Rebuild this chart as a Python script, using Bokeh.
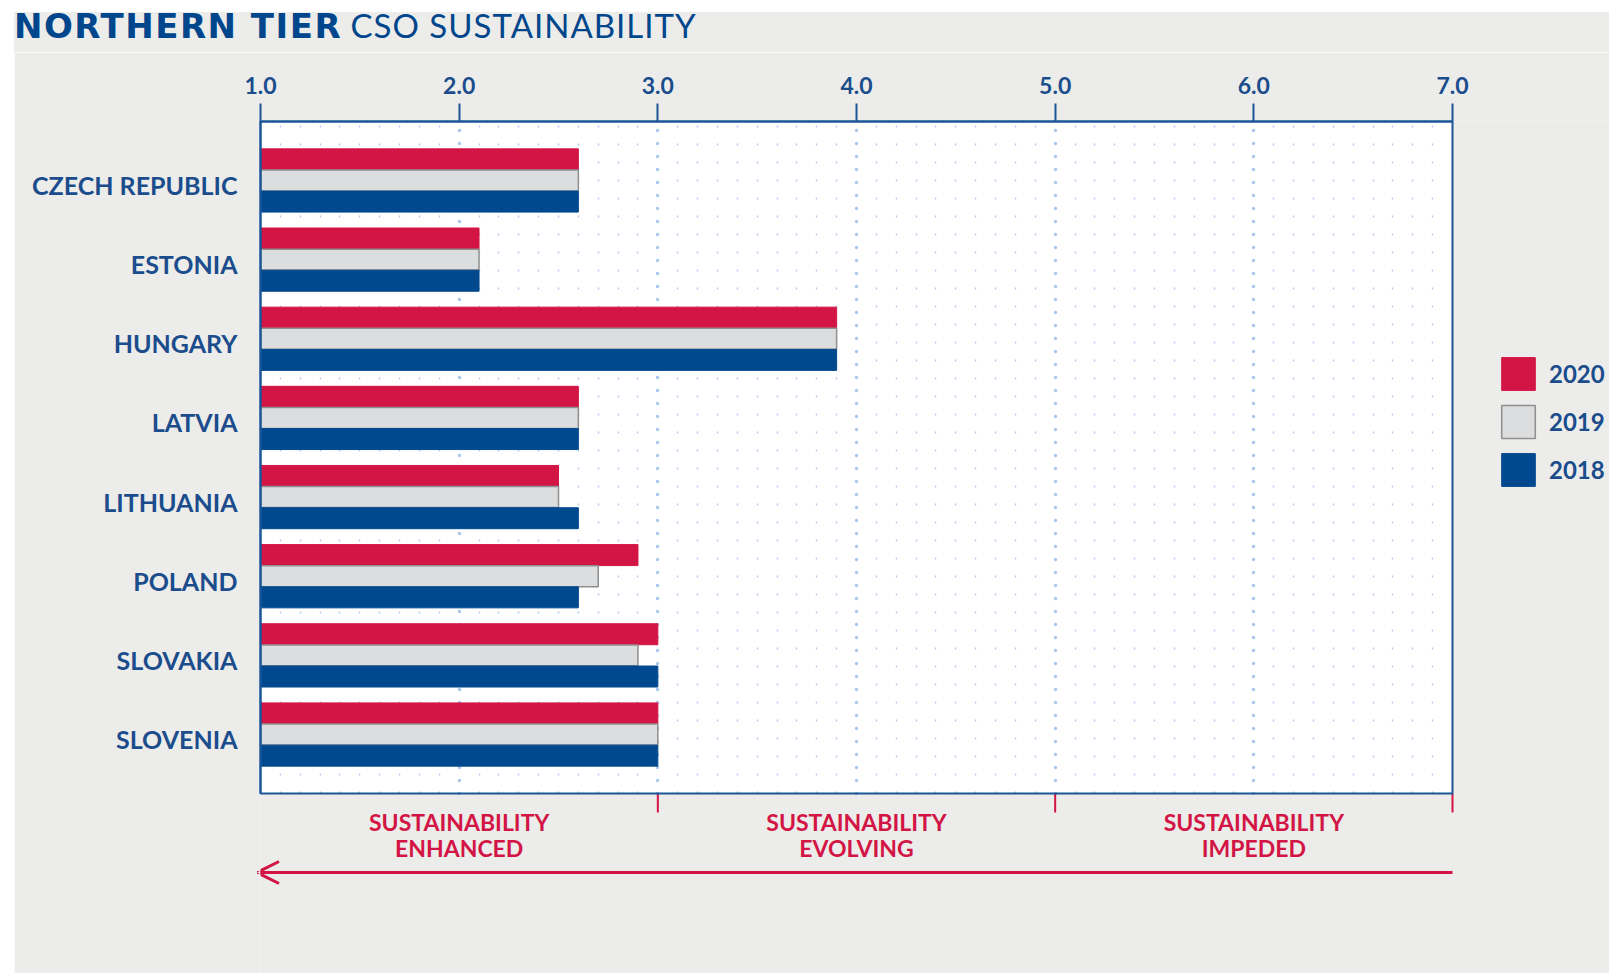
import numpy as np
from bokeh.plotting import figure
from bokeh.layouts import column
from bokeh.models import (FixedTicker, Range1d, Label, Legend, LegendItem,
                          Arrow, OpenHead, Div, Grid)
from bokeh.embed import file_html
from bokeh.resources import INLINE

# ---------------- data ----------------
countries = ["CZECH REPUBLIC", "ESTONIA", "HUNGARY", "LATVIA",
             "LITHUANIA", "POLAND", "SLOVAKIA", "SLOVENIA"]
years = ["2020", "2019", "2018"]
v2020 = [2.6, 2.1, 3.9, 2.6, 2.5, 2.9, 3.0, 3.0]
v2019 = [2.6, 2.1, 3.9, 2.6, 2.5, 2.7, 2.9, 3.0]
v2018 = [2.6, 2.1, 3.9, 2.6, 2.6, 2.6, 3.0, 3.0]
tick_values = [1, 2, 3, 4, 5, 6, 7]
tick_labels = ["1.0", "2.0", "3.0", "4.0", "5.0", "6.0", "7.0"]
zone_bounds = [1, 3, 5, 7]
zone_labels = ["SUSTAINABILITY\nENHANCED", "SUSTAINABILITY\nEVOLVING", "SUSTAINABILITY\nIMPEDED"]
title_bold = "NORTHERN TIER"
title_rest = "CSO SUSTAINABILITY"

# ---------------- style ----------------
FONT = "Lato"
BLUE_TXT = "#1B4C8C"
TITLE_BLUE = "#00468C"
RED = "#D31545"
GRAY = "#DCDDDF"
BLUE = "#00498F"
BG = "#ECECEA"
FRAME_BLUE = "#1A5597"
DOT_MAJOR = "#A9C8EA"
DOT_MINOR = "#B5CDEA"

# layout geometry (page pixels)
ORIGIN_X, ORIGIN_Y = 14, 12          # grey panel starts here
H_TITLE = 40
W, H = 1595, 921
FIG_X, FIG_Y = ORIGIN_X, ORIGIN_Y + H_TITLE
PLOT_L, PLOT_T = 260, 121            # white plot area corner on the page
PLOT_W, PLOT_H = 1192, 672
BORDER_LEFT = PLOT_L - FIG_X
BORDER_TOP = PLOT_T - FIG_Y

n = len(countries)
pos = np.arange(n)[::-1].astype(float)     # first country at top
pad = 0.745
x0, x1 = tick_values[0], tick_values[-1]
px_x = PLOT_W / (x1 - x0)
px_y = PLOT_H / (n - 1 + 2 * pad)
frame_w = W - BORDER_LEFT
frame_h = H - BORDER_TOP
y_top = n - 1 + pad
y_bot = y_top - frame_h / px_y
frame_bottom_page = FIG_Y + H

p = figure(width=W, height=H, output_backend="svg", toolbar_location=None,
           x_range=Range1d(x0, x0 + frame_w / px_x), y_range=Range1d(y_bot, y_top),
           x_axis_location="above",
           min_border_left=BORDER_LEFT, min_border_right=0, min_border_top=BORDER_TOP,
           min_border_bottom=0, margin=0)
p.background_fill_color = BG
p.border_fill_color = BG
p.outline_line_color = None

# white plot area
p.quad(left=x0, right=x1, bottom=-pad, top=y_top, fill_color="white", line_color=None, level="image")

# dotted grid restricted to the plot area
minor = [round(v, 1) for v in np.arange(x0 + 0.1, x1, 0.1) if abs(v - round(v)) > 1e-6]
major = tick_values[1:-1]
if "cross_bounds" in Grid.properties():
    g = p.xgrid[0]
    g.ticker = FixedTicker(ticks=major, minor_ticks=minor)
    g.cross_bounds = (-pad, y_top)
    g.bounds = (x0, x1)
    g.grid_line_color = DOT_MAJOR
    g.grid_line_width = 3.5
    g.grid_line_dash = "0 13"
    g.grid_line_cap = "round"
    g.minor_grid_line_color = DOT_MINOR
    g.minor_grid_line_width = 1.5
    g.minor_grid_line_dash = "2 16"
else:
    p.xgrid.grid_line_color = None
    p.segment(x0=minor, x1=minor, y0=-pad, y1=y_top, line_color=DOT_MINOR, line_width=1.5,
              line_dash="2 16", level="underlay")
    p.segment(x0=major, x1=major, y0=-pad, y1=y_top, line_color=DOT_MAJOR, line_width=3.5,
              line_dash="0 13", line_cap="round", level="underlay")
p.ygrid.grid_line_color = None

# bars
bh = 0.265
off = 0.267
series = [(v2020, RED, RED, 1, off), (v2019, GRAY, "#8F8F8F", 1.5, 0.0), (v2018, BLUE, BLUE, 1, -off)]
items = []
for (vals, fc, lc, lw, o), yr in zip(series, years):
    r = p.hbar(y=pos + o, left=x0, right=vals, height=bh, fill_color=fc,
               line_color=lc, line_width=lw)
    items.append(LegendItem(label=yr, renderers=[r]))

# plot area outline
p.quad(left=x0, right=x1, bottom=-pad, top=y_top, fill_color=None, line_color=FRAME_BLUE,
       line_width=2, level="overlay")

# red zone ticks below the plot area
zt = zone_bounds[1:]
p.segment(x0=zt, x1=zt, y0=-pad, y1=-pad - 19 / px_y, line_color=RED, line_width=2)

# top axis
ax = p.xaxis[0]
ax.ticker = FixedTicker(ticks=tick_values)
ax.bounds = (x0, x1)
ax.major_label_overrides = {t: l for t, l in zip(tick_values, tick_labels)}
ax.major_tick_out = 18
ax.major_tick_in = 0
ax.major_tick_line_color = FRAME_BLUE
ax.major_tick_line_width = 2
ax.minor_tick_line_color = None
ax.axis_line_color = FRAME_BLUE
ax.axis_line_width = 2
ax.major_label_text_font = FONT
ax.major_label_text_font_size = "23px"
ax.major_label_text_font_style = "bold"
ax.major_label_text_color = BLUE_TXT
ax.major_label_standoff = 10

# left axis with country names (labels sit slightly below the bar-group centre)
lab_pos = [float(v - 4.5 / px_y) for v in pos]
ly = p.yaxis[0]
ly.ticker = FixedTicker(ticks=lab_pos)
ly.bounds = (-pad, y_top)
ly.major_label_overrides = {v: c for v, c in zip(lab_pos, countries)}
ly.major_tick_line_color = None
ly.minor_tick_line_color = None
ly.axis_line_color = FRAME_BLUE
ly.axis_line_width = 2
ly.major_label_text_font = FONT
ly.major_label_text_font_size = "25px"
ly.major_label_text_font_style = "bold"
ly.major_label_text_color = BLUE_TXT
ly.major_label_standoff = 17

# legend (inside the big frame, right of the plot area)
leg_left_px = 1497 - PLOT_L
leg_bottom_px = frame_bottom_page - 490
legend = Legend(items=items, location=(leg_left_px, leg_bottom_px), orientation="vertical",
                glyph_width=42, glyph_height=41, spacing=7, padding=0, margin=0,
                label_standoff=10, label_text_font=FONT, label_text_font_size="24px",
                label_text_font_style="bold", label_text_color=BLUE_TXT,
                border_line_color=None, background_fill_color=None)
p.add_layout(legend, "center")

# zone labels
for i, txt in enumerate(zone_labels):
    cx = (zone_bounds[i] + zone_bounds[i + 1]) / 2.0
    for j, line in enumerate(txt.split("\n")):
        p.add_layout(Label(x=cx, y=-pad - (28 + 26 * j) / px_y, text=line, text_align="center",
                           text_baseline="middle", text_font=FONT, text_font_size="23px",
                           text_font_style="bold", text_color=RED))

# direction arrow
y_arr = -pad - 79.0 / px_y
p.add_layout(Arrow(end=OpenHead(size=22, line_color=RED, line_width=3),
                   x_start=x1, y_start=y_arr, x_end=x0 - 3.5 / px_x, y_end=y_arr,
                   line_color=RED, line_width=3))

# title (two weights in one line)
title = Div(text=(f'<span style="font-family:\'DejaVu Sans\';font-weight:bold;font-size:34px;'
                  f'letter-spacing:1.5px">{title_bold}</span> '
                  f'<span style="letter-spacing:1px">{title_rest}</span>'),
            width=W, height=H_TITLE, margin=0,
            styles={"font-family": FONT, "font-size": "33px", "color": TITLE_BLUE,
                    "background-color": BG, "line-height": "26px", "white-space": "nowrap"})

layout = column(title, p, spacing=0, margin=(ORIGIN_Y, 0, 0, ORIGIN_X),
                styles={"background-color": "white"})
open("out.html", "w").write(file_html(layout, INLINE))
